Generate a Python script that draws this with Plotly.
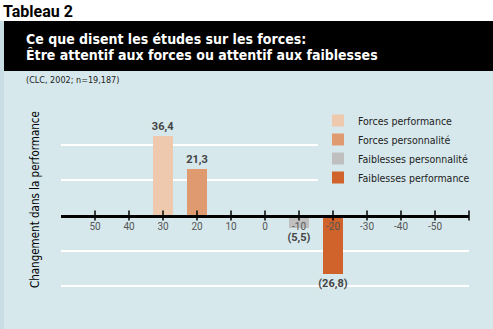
import plotly.graph_objects as go

# ---- data ----
series = ["Forces performance", "Forces personnalité", "Faiblesses personnalité", "Faiblesses performance"]
positions = [30, 20, -10, -20]
values = [36.4, 21.3, -5.5, -26.8]
colors = ["#eec9ae", "#e09a70", "#bfbfbf", "#d0622b"]
tick_vals = [50, 40, 30, 20, 10, 0, -10, -20, -30, -40, -50]
tick_text = ["50", "40", "30", "20", "10", "0", "-10", "-20", "-30", "-40", "-50"]
tick_marks = tick_vals + [-60]

W, H = 493, 329
ML, MR, MT, MB = 61, 2, 119, 17
PW, PH = W - ML - MR, H - MT - MB
PLOT_RIGHT = 469

def px(x):
    return (x - ML) / PW

def py(y):
    return (H - MB - y) / PH

def fmt(v):
    s = f"{abs(v):.1f}".replace(".", ",")
    return s if v >= 0 else f"({s})"

FONT = "DejaVu Sans Condensed, sans-serif"

fig = go.Figure()
for name, pos, val, col in zip(series, positions, values, colors):
    fig.add_trace(go.Bar(
        x=[pos], y=[val], name=name, width=6, marker_color=col, marker_line_width=0,
        text=[fmt(val)], textposition="outside", cliponaxis=False, constraintext="none",
        textfont=dict(family="Roboto, sans-serif", size=11, color="#444444", weight="bold"),
    ))

fig.add_trace(go.Scatter(
    x=tick_marks, y=[0] * len(tick_marks), mode="markers", showlegend=False,
    marker=dict(symbol="line-ns", size=7, line=dict(color="black", width=1.5)),
    hoverinfo="skip", cliponaxis=False,
))

shapes = [
    dict(type="rect", xref="paper", yref="paper", x0=px(0), x1=px(4), y0=py(329), y1=py(21),
         fillcolor="#c8dee4", line_width=0, layer="below"),
    dict(type="rect", xref="paper", yref="paper", x0=px(4), x1=px(493), y0=py(71), y1=py(21),
         fillcolor="#000000", line_width=0, layer="below"),
    dict(type="rect", xref="paper", yref="paper", x0=px(4), x1=px(493), y0=py(329), y1=py(71),
         fillcolor="#d6e8ec", line_width=0, layer="below"),
]

annotations = [
    dict(text="<b>Tableau 2</b>", xref="paper", yref="paper", x=px(1), y=py(11),
         xanchor="left", yanchor="middle", showarrow=False,
         font=dict(family="Roboto, sans-serif", size=16, color="black")),
    dict(text="<b>Ce que disent les études sur les forces:</b>", xref="paper", yref="paper",
         x=px(24), y=py(39), xanchor="left", yanchor="middle", showarrow=False,
         font=dict(family=FONT, size=14, color="white")),
    dict(text="<b>Être attentif aux forces ou attentif aux faiblesses</b>", xref="paper", yref="paper",
         x=px(24), y=py(55), xanchor="left", yanchor="middle", showarrow=False,
         font=dict(family=FONT, size=14, color="white")),
    dict(text="(CLC, 2002; n=19,187)", xref="paper", yref="paper",
         x=px(24), y=py(80), xanchor="left", yanchor="middle", showarrow=False,
         font=dict(family=FONT, size=9, color="#222222")),
    dict(text="Changement dans la performance", xref="paper", yref="paper",
         x=px(35), y=py(200), xanchor="center", yanchor="middle", showarrow=False,
         textangle=-90, font=dict(family=FONT, size=11.5, color="black")),
]

fig.update_layout(
    width=W, height=H, margin=dict(l=ML, r=MR, t=MT, b=MB),
    paper_bgcolor="white", plot_bgcolor="rgba(0,0,0,0)",
    barmode="overlay", bargap=0,
    shapes=shapes, annotations=annotations,
    showlegend=True,
    legend=dict(x=px(318), y=py(106), xanchor="left", yanchor="top",
                bgcolor="#d6e8ec", font=dict(family=FONT, size=10.5, color="#222222"),
                tracegroupgap=0, itemclick=False),
    xaxis=dict(range=[60, -60], domain=[0, px(PLOT_RIGHT)], anchor="free", position=0.5,
               showline=True, linecolor="black", linewidth=3,
               tickvals=tick_vals, ticktext=tick_text, ticks="",
               tickfont=dict(family="Roboto, sans-serif", size=10, color="#555555"),
               showgrid=False, zeroline=False, fixedrange=True),
    yaxis=dict(range=[-44, 44], showticklabels=False, ticks="",
               dtick=16, tick0=0, showgrid=True, gridcolor="white", gridwidth=1.5,
               zeroline=False, fixedrange=True),
)

fig.write_html("out.html")
